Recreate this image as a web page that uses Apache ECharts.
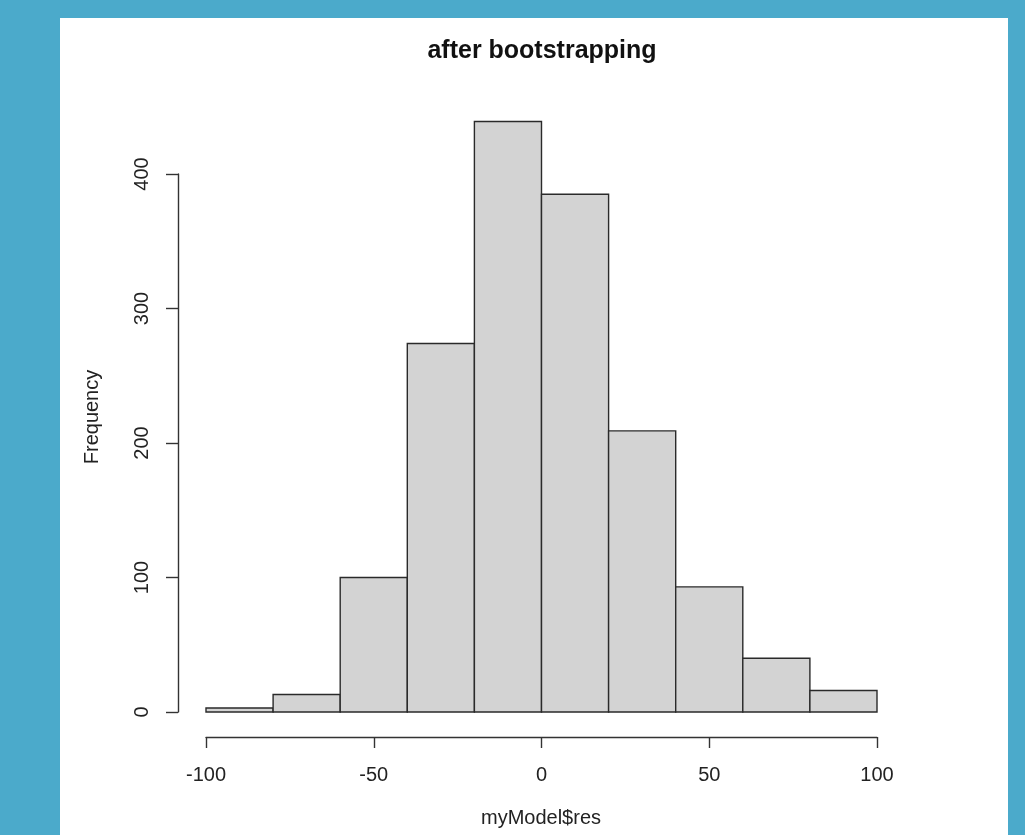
<!DOCTYPE html>
<html>
<head>
<meta charset="utf-8">
<script src="https://cdn.jsdelivr.net/npm/echarts@6/dist/echarts.min.js"></script>
<style>
html,body{margin:0;padding:0;background:#4BAACB;}
#chart{width:1025px;height:835px;}
</style>
</head>
<body>
<div id="chart"></div>
<script>
// Histogram data (bin edges and counts)
const binStarts = [-100, -80, -60, -40, -20, 0, 20, 40, 60, 80];
const binEnds   = [-80, -60, -40, -20, 0, 20, 40, 60, 80, 100];
const counts    = [3, 13, 100, 274, 439, 385, 209, 93, 40, 16];
const xTicks = [-100, -50, 0, 50, 100];
const yTicks = [0, 100, 200, 300, 400];
const titleText = 'after bootstrapping';
const xLabel = 'myModel$res';
const yLabel = 'Frequency';

const data = binStarts.map((s, i) => [s, binEnds[i], counts[i]]);
const FONT = '"Liberation Sans", Arial, Helvetica, sans-serif';

const chart = echarts.init(document.getElementById('chart'));
chart.setOption({
  backgroundColor: '#4BAACB',
  animation: false,
  title: {
    text: titleText,
    left: 537, top: 34, textAlign: 'center',
    textStyle: {fontFamily: FONT, fontSize: 25, fontWeight: 'bold', color: '#111'}
  },
  graphic: [
    {type: 'rect', z: -10, shape: {x: 60, y: 18, width: 948, height: 817}, style: {fill: '#ffffff'}},
    {type: 'text', x: 541, y: 818, style: {text: xLabel, fontFamily: FONT, fontSize: 20, fill: '#222', align: 'center', verticalAlign: 'middle'}},
    {type: 'text', x: 92, y: 417, rotation: Math.PI / 2, style: {text: yLabel, fontFamily: FONT, fontSize: 20, fill: '#222', align: 'center', verticalAlign: 'middle'}}
  ],
  grid: {left: 206, right: 148, top: 174, bottom: 123, containLabel: false},
  xAxis: {
    type: 'value', min: -100, max: 100, interval: 50, offset: 25,
    axisLine: {show: true, onZero: false, lineStyle: {color: '#333', width: 1.4}},
    axisTick: {show: true, length: 11, lineStyle: {color: '#333', width: 1.4}},
    splitLine: {show: false},
    axisLabel: {fontFamily: FONT, fontSize: 20, color: '#222', margin: 28,
      customValues: xTicks},
  },
  yAxis: {
    type: 'value', min: 0, max: 400, interval: 100, offset: 28,
    axisLine: {show: true, onZero: false, lineStyle: {color: '#333', width: 1.4}},
    axisTick: {show: true, length: 12, lineStyle: {color: '#333', width: 1.4}},
    splitLine: {show: false},
    axisLabel: {fontFamily: FONT, fontSize: 20, color: '#222', rotate: 90, margin: 26}
  },
  series: [{
    type: 'custom',
    clip: false,
    data: data,
    encode: {x: [0, 1], y: 2},
    renderItem: function (params, api) {
      const p0 = api.coord([api.value(0), 0]);
      const p1 = api.coord([api.value(1), api.value(2)]);
      return {
        type: 'rect',
        shape: {x: p0[0], y: p1[1], width: p1[0] - p0[0], height: p0[1] - p1[1]},
        style: {fill: '#d3d3d3', stroke: '#2a2a2a', lineWidth: 1.4}
      };
    }
  }]
});
</script>
</body>
</html>
